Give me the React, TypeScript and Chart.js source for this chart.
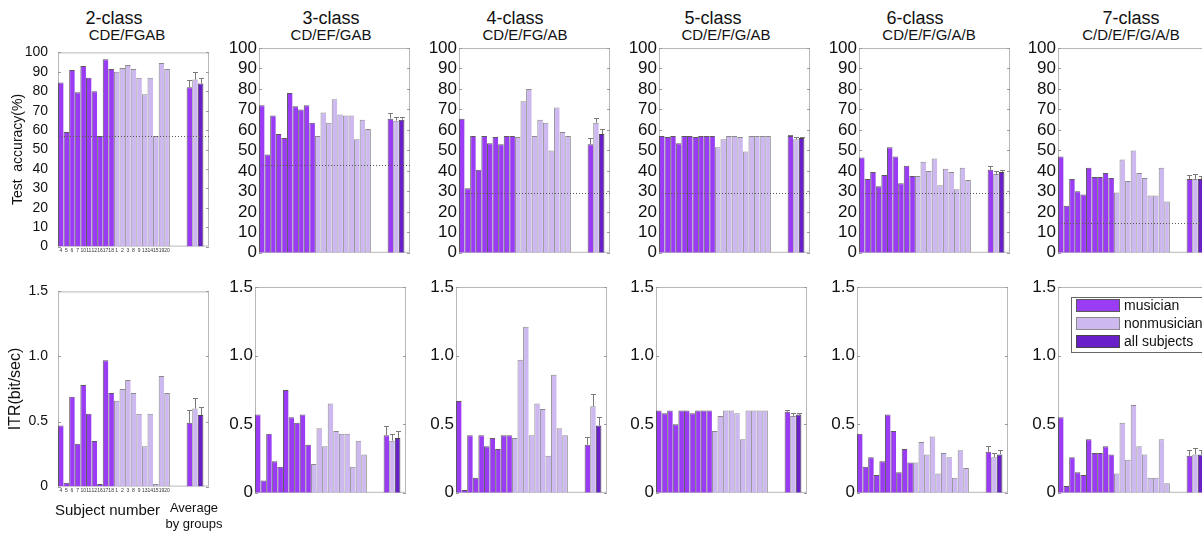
import React, { useEffect, useRef } from 'react';
import { Chart, registerables } from 'chart.js';

Chart.register(...registerables);
Chart.defaults.font.family = '"Liberation Sans", Arial, sans-serif';

// ---------- data ----------
const subjectLabels = ['4', '5', '6', '7', '10', '11', '12', '16', '17', '18', '1', '2', '3', '8', '9', '13', '14', '15', '19', '20'];
const groupLabels = ['musician', 'nonmusician', 'all subjects'];
const classTitles = ['2-class', '3-class', '4-class', '5-class', '6-class', '7-class'];
const classSubtitles = ['CDE/FGAB', 'CD/EF/GAB', 'CD/E/FG/AB', 'CD/E/F/G/AB', 'CD/E/F/G/A/B', 'C/D/E/F/G/A/B'];
const chanceLevels = [57, 43, 29, 29, 29, 14.5];

const accMusician = [
  [84.5, 59, 91, 79.5, 93, 87, 80, 57, 96.5, 91.5],
  [72, 48, 67, 58, 56, 78, 71.5, 70, 72, 63.5],
  [65.5, 31.5, 57, 40.5, 57, 53.5, 56.5, 53, 57, 57],
  [57, 56.5, 57, 53.5, 57, 57, 56.5, 57, 57, 57],
  [46.5, 36, 39.5, 32.5, 38, 51.5, 47, 34, 42.5, 37.5],
  [47, 23, 36, 30, 28.5, 41.5, 37, 37, 39, 36.5],
];
const accNonmusician = [
  [90, 92, 93.5, 91.5, 87, 78.5, 87, 57, 94.5, 91.5],
  [57, 68.5, 63.5, 75, 67.5, 67, 67, 55.5, 65, 60.5],
  [56.5, 74, 80, 57, 65, 63.5, 50, 71, 59, 57],
  [51.5, 55.5, 57, 57, 56.5, 49.5, 57, 57, 57, 57],
  [37.5, 44.5, 40, 46, 33, 41, 39.5, 31, 41.5, 35.5],
  [29.5, 45.5, 35, 50, 39, 36.5, 28, 28, 41.5, 25],
];
const accAverage = [
  [82, 86, 84], [65.5, 64.5, 65], [53, 63.5, 58], [57, 55.5, 56], [40.5, 38.5, 39.5], [36, 36, 36],
];
const accError = [
  [4, 4, 3], [3, 2, 1.5], [3, 2.5, 2.5], [0.3, 1, 0.5], [2, 1.5, 1], [2, 2.5, 1.5],
];

const itrMusician = [
  [0.47, 0.03, 0.69, 0.33, 0.78, 0.56, 0.35, 0.02, 0.97, 0.72],
  [0.57, 0.09, 0.43, 0.23, 0.19, 0.75, 0.55, 0.51, 0.57, 0.35],
  [0.67, 0.02, 0.42, 0.11, 0.42, 0.34, 0.4, 0.32, 0.42, 0.42],
  [0.6, 0.58, 0.6, 0.5, 0.6, 0.6, 0.58, 0.6, 0.6, 0.6],
  [0.43, 0.19, 0.26, 0.13, 0.23, 0.57, 0.45, 0.15, 0.32, 0.22],
  [0.55, 0.05, 0.26, 0.15, 0.13, 0.39, 0.29, 0.29, 0.34, 0.28],
];
const itrNonmusician = [
  [0.66, 0.75, 0.82, 0.72, 0.56, 0.31, 0.56, 0.02, 0.85, 0.72],
  [0.21, 0.47, 0.34, 0.65, 0.45, 0.43, 0.43, 0.19, 0.38, 0.28],
  [0.4, 0.97, 1.21, 0.42, 0.65, 0.61, 0.27, 0.86, 0.47, 0.42],
  [0.45, 0.56, 0.6, 0.6, 0.58, 0.39, 0.6, 0.6, 0.6, 0.6],
  [0.22, 0.37, 0.28, 0.41, 0.14, 0.29, 0.26, 0.11, 0.31, 0.18],
  [0.14, 0.51, 0.24, 0.64, 0.34, 0.28, 0.11, 0.11, 0.39, 0.07],
];
const itrAverage = [
  [0.49, 0.6, 0.55], [0.42, 0.38, 0.4], [0.35, 0.63, 0.49], [0.59, 0.56, 0.57], [0.3, 0.26, 0.28], [0.27, 0.28, 0.28],
];
const itrError = [
  [0.1, 0.08, 0.06], [0.07, 0.05, 0.05], [0.06, 0.09, 0.06], [0.01, 0.02, 0.01], [0.04, 0.03, 0.03], [0.04, 0.05, 0.03],
];

// ---------- styles / layout ----------
const FILL = ['#9a3cf4', '#cdb9f0', '#6a20c8'];
const EDGE = ['#5a5a5a', '#8a8a8a', '#444444'];
const FONT = '"Liberation Sans", Arial, sans-serif';

const plotLeftTop = [58, 259, 459, 659, 859, 1058];
const plotLeftBottom = [58, 255, 456, 656, 857, 1058];
const plotTopY = [48, 287];
const plotBottomY = [253, 493];
const PLOT_W = 151;
const PT = 14;
const XH = 12;
const PR = 6;
const titleCenters = [114, 331, 515, 713, 915, 1131];
const subtitleCenters = [127, 331, 525, 726, 929, 1131];

// category slots: 20 subjects, 3 blanks, 3 averages, 1 blank
const slotLabels = [...subjectLabels, '', '', '', ...groupLabels, ''];
const AVG_START = 23;
const occupied = slotLabels.map((_, i) => i < 20 || (i >= AVG_START && i < AVG_START + 3));

function geometry(row: number, col: number) {
  const axw = col === 0 ? 58 : 50;
  const plotLeft = row === 0 ? plotLeftTop[col] : plotLeftBottom[col];
  const h = PT + (plotBottomY[row] - plotTopY[row]) + XH;
  return { axw, left: plotLeft - axw, top: plotTopY[row] - PT, w: axw + PLOT_W + PR, h };
}

const decorPlugin = {
  id: 'decor',
  beforeDatasetsDraw(chart: any) {
    const { ctx, chartArea: a } = chart;
    ctx.save();
    ctx.strokeStyle = '#b8b8b8';
    ctx.lineWidth = 1;
    ctx.strokeRect(a.left + 0.5, a.top + 0.5, a.right - a.left - 1, a.bottom - a.top - 1);
    const ys = chart.scales.y;
    ctx.strokeStyle = '#9a9a9a';
    ctx.beginPath();
    ys.ticks.forEach((t: any) => {
      const y = Math.round(ys.getPixelForValue(t.value)) + 0.5;
      ctx.moveTo(a.left, y);
      ctx.lineTo(a.left + 3, y);
      ctx.moveTo(a.right - 3, y);
      ctx.lineTo(a.right, y);
    });
    ctx.stroke();
    ctx.restore();
  },
  afterDatasetsDraw(chart: any, _a: any, opts: any) {
    const { ctx, chartArea: a } = chart;
    const ys = chart.scales.y;
    ctx.save();
    // error bars
    (opts.errors || []).forEach((err: number, i: number) => {
      const idx = AVG_START + i;
      const el = chart.getDatasetMeta(i).data[idx];
      const v = chart.data.datasets[i].data[idx];
      if (!el || v == null) return;
      const x = Math.round(el.x) + 0.5;
      const yTop = Math.round(ys.getPixelForValue(v + err)) + 0.5;
      ctx.strokeStyle = '#7a7a7a';
      ctx.lineWidth = 1;
      ctx.beginPath();
      ctx.moveTo(x, el.y);
      ctx.lineTo(x, yTop);
      ctx.moveTo(x - 2.5, yTop);
      ctx.lineTo(x + 2.5, yTop);
      ctx.stroke();
    });
    // chance level
    if (opts.chance != null) {
      const y = Math.round(ys.getPixelForValue(opts.chance)) + 0.5;
      ctx.strokeStyle = '#555';
      ctx.lineWidth = 1;
      ctx.setLineDash([1, 2]);
      ctx.beginPath();
      ctx.moveTo(a.left, y);
      ctx.lineTo(a.right, y);
      ctx.stroke();
      ctx.setLineDash([]);
    }
    // legend box
    if (opts.legend) {
      const lx = a.left + 13;
      const ly = a.top + 10;
      const rowH = 18;
      const sw = 44;
      const sh = 13;
      ctx.font = `14px ${FONT}`;
      const names = chart.data.datasets.map((d: any) => d.label);
      const maxW = Math.max(...names.map((n: string) => ctx.measureText(n).width));
      const boxW = 5 + sw + 4 + maxW + 6;
      const boxH = 3 * rowH + 1;
      ctx.fillStyle = '#fff';
      ctx.fillRect(lx, ly, boxW, boxH);
      ctx.strokeStyle = '#666';
      ctx.lineWidth = 1;
      ctx.strokeRect(lx + 0.5, ly + 0.5, boxW, boxH);
      names.forEach((n: string, i: number) => {
        const sy = ly + 2 + i * rowH;
        ctx.fillStyle = FILL[i];
        ctx.fillRect(lx + 5, sy, sw, sh);
        ctx.strokeStyle = EDGE[i];
        ctx.strokeRect(lx + 5.5, sy + 0.5, sw - 1, sh - 1);
        ctx.fillStyle = '#111';
        ctx.textBaseline = 'middle';
        ctx.textAlign = 'left';
        ctx.fillText(n, lx + 5 + sw + 4, sy + sh / 2 + 1);
      });
    }
    ctx.restore();
  },
};

function buildConfig(row: number, col: number): any {
  const isAcc = row === 0;
  const m = isAcc ? accMusician[col] : itrMusician[col];
  const nm = isAcc ? accNonmusician[col] : itrNonmusician[col];
  const avg = isAcc ? accAverage[col] : itrAverage[col];
  const err = isAcc ? accError[col] : itrError[col];
  const g = geometry(row, col);

  const dM = slotLabels.map((_, i) => (i < 10 ? m[i] : i === AVG_START ? avg[0] : null));
  const dN = slotLabels.map((_, i) => (i >= 10 && i < 20 ? nm[i - 10] : i === AVG_START + 1 ? avg[1] : null));
  const dA = slotLabels.map((_, i) => (i === AVG_START + 2 ? avg[2] : null));

  const bw = (c: any) => ({ left: 1, top: 1, right: occupied[c.dataIndex + 1] ? 0 : 1, bottom: 0 });
  const mk = (label: string, data: any[], i: number) => ({
    label,
    data,
    backgroundColor: FILL[i],
    borderColor: EDGE[i],
    borderWidth: bw,
    borderSkipped: 'start',
    grouped: false,
    barPercentage: 1,
    categoryPercentage: 1,
    inflateAmount: 0,
  });

  const first = col === 0;
  return {
    type: 'bar',
    data: {
      labels: slotLabels,
      datasets: [mk(groupLabels[0], dM, 0), mk(groupLabels[1], dN, 1), mk(groupLabels[2], dA, 2)],
    },
    plugins: [decorPlugin],
    options: {
      responsive: false,
      animation: false,
      devicePixelRatio: 1,
      layout: { padding: { left: 0, right: PR, top: PT, bottom: 0 } },
      plugins: {
        legend: { display: false },
        tooltip: { enabled: false },
        title: { display: false },
        decor: {
          errors: err,
          chance: isAcc ? chanceLevels[col] : null,
          legend: row === 1 && col === 5,
        },
      },
      scales: {
        x: {
          type: 'category',
          offset: true,
          grid: { display: false, drawTicks: false },
          border: { display: false },
          ticks: {
            display: first,
            autoSkip: false,
            maxRotation: 0,
            minRotation: 0,
            padding: 1,
            color: '#333',
            font: { size: 5, family: FONT },
            callback: (_v: any, i: number) => (i < 20 ? subjectLabels[i] : ''),
          },
          afterFit: (s: any) => {
            s.height = XH;
          },
        },
        y: {
          min: 0,
          max: isAcc ? 100 : 1.5,
          grid: { display: false, drawTicks: false },
          border: { display: false },
          ticks: {
            stepSize: isAcc ? 10 : 0.5,
            autoSkip: false,
            color: '#111',
            padding: first ? 10 : 2,
            font: { size: first ? 14 : 17, family: FONT },
            callback: (v: any) => (isAcc ? String(v) : Number(v) === 0 ? '0' : Number(v).toFixed(1)),
          },
          title: first
            ? {
                display: true,
                text: isAcc ? 'Test  accuracy(%)' : 'ITR(bit/sec)',
                color: '#111',
                font: { size: isAcc ? 14 : 16, family: FONT },
                padding: { top: isAcc ? 10 : 6, bottom: 0 },
              }
            : { display: false },
          afterFit: (s: any) => {
            s.width = g.axw;
          },
        },
      },
    },
  };
}

function Panel({ row, col }: { row: number; col: number }) {
  const ref = useRef<HTMLCanvasElement>(null);
  const g = geometry(row, col);
  useEffect(() => {
    const chart = new Chart(ref.current as HTMLCanvasElement, buildConfig(row, col));
    return () => chart.destroy();
  }, [row, col]);
  return (
    <canvas
      ref={ref}
      width={g.w}
      height={g.h}
      style={{ position: 'absolute', left: g.left, top: g.top, width: g.w, height: g.h }}
    />
  );
}

export default function App() {
  const cols = [0, 1, 2, 3, 4, 5];
  return (
    <div
      style={{
        position: 'fixed',
        left: 0,
        top: 0,
        width: 1202,
        height: 535,
        overflow: 'hidden',
        background: '#fff',
        fontFamily: FONT,
        color: '#111',
      }}
    >
      {cols.map((c) => (
        <div
          key={'t' + c}
          style={{ position: 'absolute', left: titleCenters[c] - 100, top: 8, width: 200, textAlign: 'center', fontSize: 18, lineHeight: '20px' }}
        >
          {classTitles[c]}
        </div>
      ))}
      {cols.map((c) => (
        <div
          key={'s' + c}
          style={{ position: 'absolute', left: subtitleCenters[c] - 100, top: 27, width: 200, textAlign: 'center', fontSize: 15, lineHeight: '16px' }}
        >
          {classSubtitles[c]}
        </div>
      ))}
      {cols.map((c) => (
        <Panel key={'a' + c} row={0} col={c} />
      ))}
      {cols.map((c) => (
        <Panel key={'b' + c} row={1} col={c} />
      ))}
      <div style={{ position: 'absolute', left: 55, top: 502, fontSize: 15, lineHeight: '16px', whiteSpace: 'nowrap' }}>
        Subject number
      </div>
      <div style={{ position: 'absolute', left: 154, top: 500, width: 80, textAlign: 'center', fontSize: 13, lineHeight: '16px' }}>
        Average
        <br />
        by groups
      </div>
    </div>
  );
}
